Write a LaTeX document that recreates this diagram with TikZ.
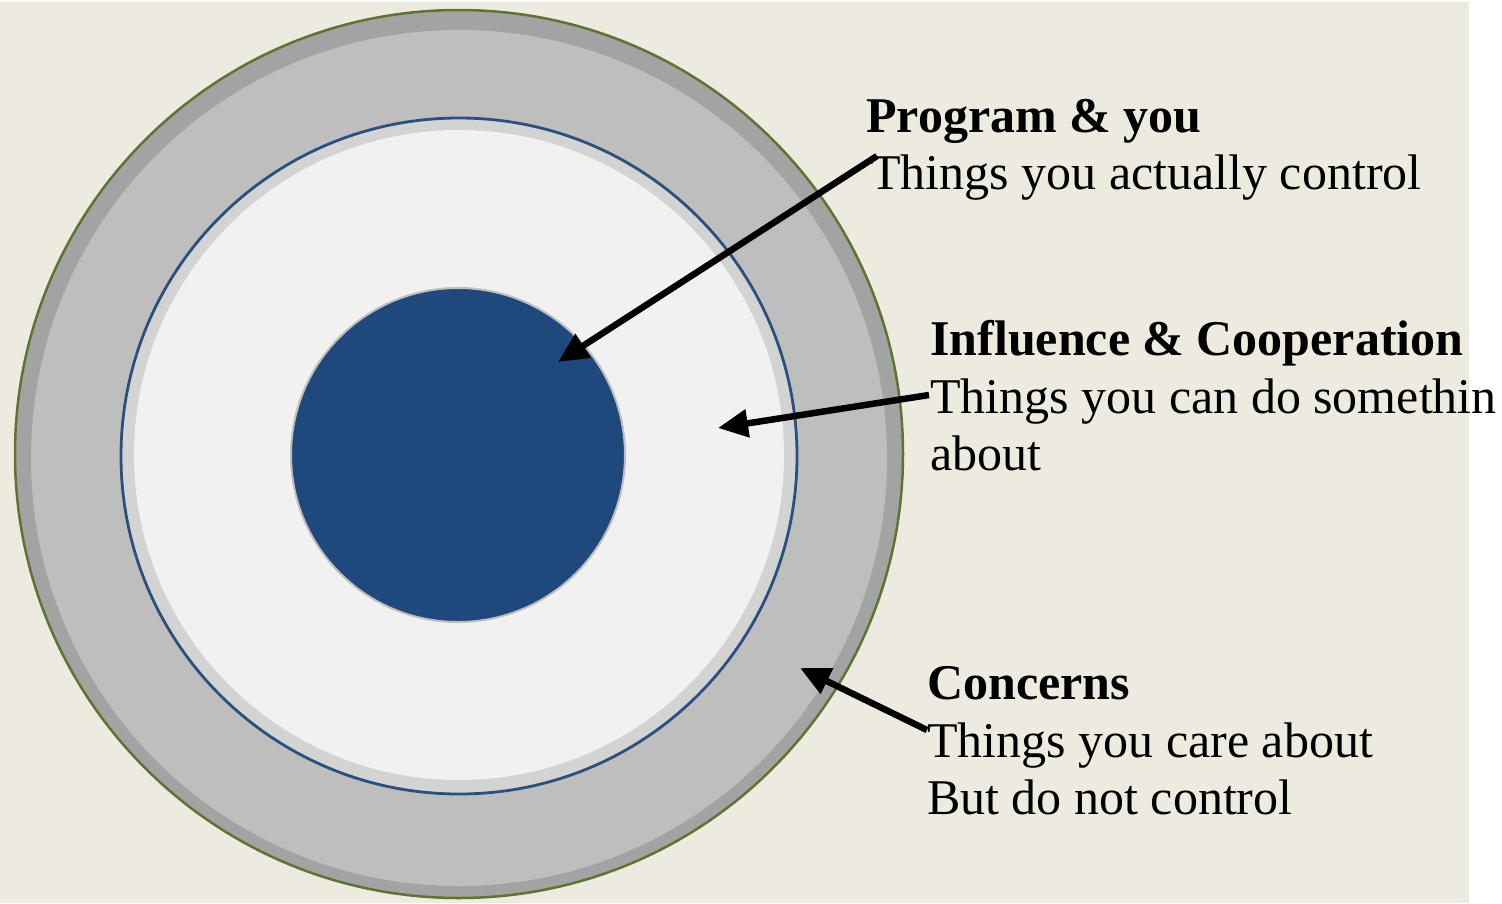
\documentclass[tikz,border=0pt]{standalone}
\usepackage{fontspec}
\setmainfont{Liberation Serif}
\usetikzlibrary{arrows.meta}
\definecolor{bgbeige}{HTML}{EDEBE0}
\definecolor{ringdark}{HTML}{A3A3A3}
\definecolor{ringgray}{HTML}{BEBEBE}
\definecolor{ringgreen}{HTML}{5E7432}
\definecolor{lineblue}{HTML}{2B4F7E}
\definecolor{bandlight}{HTML}{D3D3D3}
\definecolor{innerwhite}{HTML}{F1F1F1}
\definecolor{coreblue}{HTML}{1F497D}
\tikzset{
  lbl/.style={anchor=base west, inner sep=0pt, font=\fontsize{50}{57}\selectfont, text=black},
  lblb/.style={lbl, font=\fontsize{50}{57}\selectfont\bfseries},
  pointer/.style={line width=6.5pt, -{Triangle[length=30pt,width=27pt]}},
}
\begin{document}
\begin{tikzpicture}[x=1pt,y=-1pt]
\useasboundingbox (0,0) rectangle (1502,903);
\fill[white] (0,0) rectangle (1502,903);
\fill[bgbeige] (0,2) rectangle (1469,903);
% outer ring
\fill[ringdark] (459,454) circle[radius=444];
\fill[ringgray] (459,458) circle[radius=428];
\draw[ringgreen, line width=2.5pt] (459,454) circle[radius=444];
% middle circle
\fill[bandlight] (459,455) circle[radius=338];
\fill[innerwhite] (459,455) circle[radius=325];
\draw[lineblue, line width=2.8pt] (459,456) circle[radius=338];
% core
\node[circle, fill=coreblue, draw=ringgray, line width=2pt, minimum size=334pt, inner sep=0pt] (core) at (458,455) {};
% labels
\node[lblb] (t1) at (866,132) {Program \& you};
\node[lbl] (s1) at (870,189) {Things you actually control};
\node[lblb] (t2) at (930,355) {Influence \& Cooperation};
\node[lbl] (s2) at (930,413) {Things you can do somethin};
\node[lbl] (s2b) at (930,470) {about};
\node[lblb] (t3) at (927,699) {Concerns};
\node[lbl] (s3) at (927,757) {Things you care about};
\node[lbl] (s3b) at (927,814) {But do not control};
% arrow ends
\coordinate (a1s) at (877,156);
\coordinate (a1e) at (558,362);
\coordinate (a2s) at (929,395);
\coordinate (a2e) at (718,428);
\coordinate (a3s) at (927,730);
\coordinate (a3e) at (800,668);
\draw[pointer] (a1s) -- (a1e);
\draw[pointer] (a2s) -- (a2e);
\draw[pointer] (a3s) -- (a3e);
\end{tikzpicture}
\end{document}
